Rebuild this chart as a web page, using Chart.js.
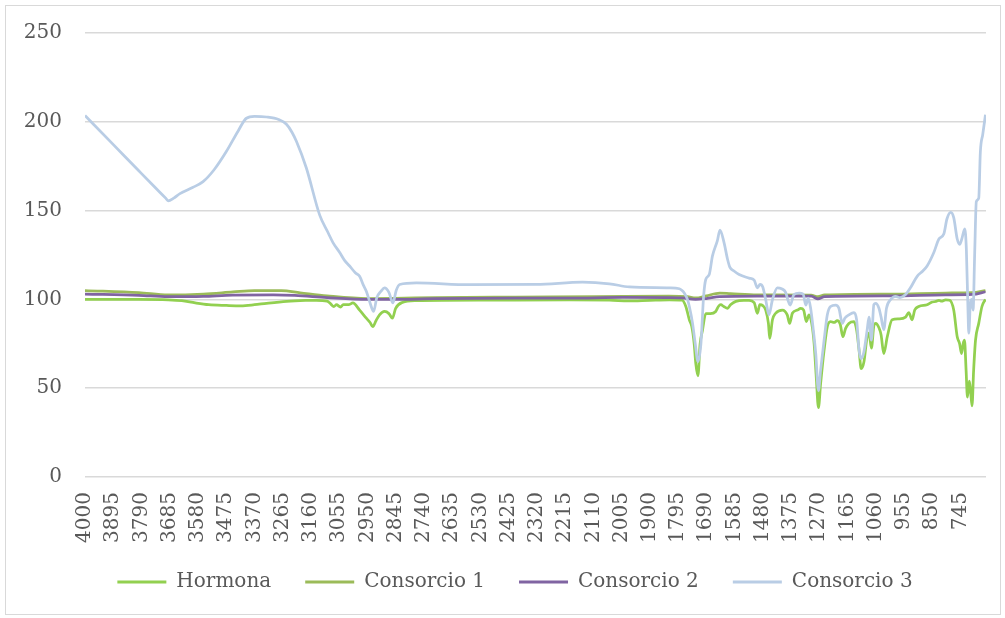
<!DOCTYPE html>
<html>
<head>
<meta charset="utf-8">
<script src="https://cdn.jsdelivr.net/npm/chart.js@4.4.0/dist/chart.umd.min.js"></script>
<style>
  html, body { margin: 0; padding: 0; background: #fff; }
  #frame { position: absolute; left: 5px; top: 5px; width: 996px; height: 610px; border: 1px solid #d9d9d9; box-sizing: border-box; }
  #chart { position: absolute; left: 0; top: 0; }
</style>
</head>
<body>
<div id="frame"></div>
<canvas id="chart" width="1005" height="618"></canvas>
<script>
// Tick labels of the wavenumber axis (cm-1)
const tickLabels = [4000, 3895, 3790, 3685, 3580, 3475, 3370, 3265, 3160, 3055, 2950, 2845, 2740, 2635, 2530, 2425,
  2320, 2215, 2110, 2005, 1900, 1795, 1690, 1585, 1480, 1375, 1270, 1165, 1060, 955, 850, 745];

const seriesNames = ["Hormona", "Consorcio 1", "Consorcio 2", "Consorcio 3"];

// Hormona
const hormonaX = [4000, 3800, 3691, 3640, 3590, 3540, 3474, 3420, 3370, 3325, 3250, 3180, 3140, 3100, 3090, 3075, 3065, 3050, 3040, 3020,
  3004, 2979, 2954, 2940, 2930, 2918, 2905, 2886, 2870, 2857, 2845, 2820, 2770, 2500, 2200, 2050, 1980, 1900, 1828, 1780,
  1766, 1753, 1744, 1735, 1729, 1721, 1713, 1704, 1692, 1675, 1655, 1645, 1636, 1625, 1611, 1600, 1580, 1550, 1531, 1512,
  1500, 1491, 1480, 1469, 1459, 1454, 1444, 1432, 1407, 1389, 1380, 1370, 1351, 1339, 1328, 1318, 1308, 1298, 1289, 1281,
  1273, 1265, 1252, 1240, 1228, 1215, 1203, 1192, 1182, 1172, 1160, 1141, 1131, 1122, 1114, 1104, 1092, 1085, 1076, 1067,
  1060, 1048, 1040, 1030, 1017, 999, 974, 949, 937, 925, 915, 900, 869, 850, 838, 825, 815, 800, 785, 770,
  757, 748, 741, 735, 730, 724, 719, 712, 707, 702, 696, 689, 677, 665, 652];
const hormonaY = [100, 100, 99.8, 99.3, 98, 97, 96.6, 96.4, 97, 97.8, 98.9, 99.4, 99.5, 99, 98, 96, 97, 95.7, 97, 97,
  98, 94, 89.4, 87, 84.7, 88, 91.3, 93.2, 92, 89.4, 95, 98.3, 99.3, 99.6, 99.7, 99.6, 99.1, 99.5, 99.8, 99.6,
  96, 88.5, 84.7, 75, 63.8, 57, 75, 82.7, 92, 92, 93.2, 96, 97, 96, 95, 97, 98.9, 99.4, 99.4, 98.2,
  92.2, 97, 96.5, 94, 86.5, 78, 88.5, 92.2, 94, 91.3, 86.5, 92.2, 94, 95, 94, 87.5, 91.3, 86.5, 75, 56,
  39, 52.4, 71.4, 84.7, 87.5, 87, 88, 86, 79, 83.7, 86.5, 87.5, 82.7, 71.4, 61, 64.7, 79, 81, 72.5, 85,
  86.5, 84, 80, 69.5, 79, 88.5, 89, 90, 92.6, 88.5, 94, 96, 97, 98.5, 98.8, 99.5, 99, 99.8, 99.5, 94,
  79, 75, 69.5, 75, 77, 60, 45, 54, 48, 40, 60, 77, 86.5, 96, 100];

// Consorcio 1
const consorcio1X = [4000, 3800, 3691, 3560, 3450, 3370, 3270, 3200, 3100, 2950, 2850, 2700, 2400, 2100, 1830, 1760, 1730, 1690, 1640, 1600,
  1500, 1300, 1275, 1250, 1000, 800, 700, 652];
const consorcio1Y = [105, 103.8, 102.5, 103, 104.2, 105, 104.9, 103.7, 102, 100.5, 100.6, 101, 101.3, 101.5, 101.8, 101.5, 100.8, 102, 103.5, 103.2,
  102.5, 102.4, 101.5, 102.5, 103, 103.6, 103.8, 105];

// Consorcio 2
const consorcio2X = [4000, 3800, 3691, 3560, 3450, 3300, 3220, 3100, 2950, 2850, 2700, 2400, 2200, 2000, 1830, 1780, 1730, 1690, 1640, 1500,
  1300, 1275, 1250, 1000, 800, 700, 652];
const consorcio2Y = [103, 102.3, 101.5, 101.7, 102.4, 102.5, 102.2, 101, 100, 100, 100.4, 100.7, 100.7, 101.1, 101, 100.8, 100, 100.5, 101.5, 101.8,
  101.8, 100.3, 101.6, 102, 102.6, 102.8, 104.3];

// Consorcio 3
const consorcio3X = [4000, 3900, 3800, 3740, 3700, 3691, 3670, 3647, 3600, 3561, 3520, 3474, 3430, 3400, 3370, 3325, 3280, 3251, 3230, 3214,
  3177, 3127, 3097, 3078, 3053, 3035, 3016, 2995, 2979, 2965, 2954, 2940, 2927, 2915, 2900, 2886, 2870, 2855, 2843, 2830,
  2768, 2570, 2323, 2150, 2050, 1976, 1828, 1790, 1780, 1772, 1760, 1753, 1741, 1731, 1721, 1710, 1700, 1692, 1679, 1667,
  1649, 1639, 1624, 1611, 1602, 1587, 1568, 1531, 1512, 1500, 1490, 1480, 1469, 1457, 1444, 1426, 1410, 1395, 1385, 1378,
  1364, 1345, 1330, 1320, 1311, 1302, 1292, 1283, 1273, 1265, 1252, 1240, 1228, 1209, 1197, 1184, 1175, 1160, 1141, 1131,
  1122, 1114, 1104, 1092, 1085, 1076, 1067, 1060, 1048, 1040, 1030, 1020, 1005, 986, 970, 949, 931, 906, 885, 869,
  844, 825, 807, 795, 781, 770, 757, 748, 740, 729, 723, 717, 714, 708, 703, 698, 692, 686, 677, 671,
  662, 652];
const consorcio3Y = [203.5, 188, 172.4, 163.1, 157, 155.5, 157, 159.6, 163, 166.3, 173, 183.4, 195, 202, 203, 202.7, 201.3, 198.6, 194, 189,
  174, 147.3, 137.8, 132, 126.4, 122, 118.8, 115, 113, 108, 104.6, 98, 93.2, 101, 104.5, 106.5, 104, 98, 105, 108.4,
  109.3, 108.3, 108.4, 109.7, 108.8, 107, 106.5, 106, 105, 103.6, 100, 96, 86.5, 75, 65, 75, 101.7, 111.2, 114, 124.5,
  133, 139, 132, 122.6, 118, 116, 114, 112, 110.8, 106.5, 108.4, 107, 99.8, 91.3, 99.8, 106.5, 106, 104, 98.9, 96.8,
  102.7, 103.6, 103, 96.8, 100.7, 95, 82.7, 69.5, 48.6, 60, 77, 91.3, 96, 96.8, 95, 86.5, 89.4, 91.3, 92.6, 88.5,
  71.4, 66.6, 70.4, 82.7, 90, 77, 97, 97.7, 95, 90, 83, 95, 99.8, 101.7, 101, 102.7, 106.5, 113, 116, 118.8,
  126.4, 134, 136.8, 145.4, 149, 146, 134, 131, 134, 139.7, 128, 94, 81, 98, 100, 94, 126.4, 155, 157, 183,
  193, 204];

const seriesColors = ["#92d050", "#9bbb59", "#8064a2", "#b9cde5"];

// pair up wavenumbers and values for the linear x scale
const toPoints = (xs, ys) => xs.map((x, i) => ({ x: x, y: ys[i] }));
const seriesData = [
  toPoints(hormonaX, hormonaY),
  toPoints(consorcio1X, consorcio1Y),
  toPoints(consorcio2X, consorcio2Y),
  toPoints(consorcio3X, consorcio3Y),
];

const labelFont = { family: "'DejaVu Serif', serif", size: 20 };
const textColor = "#595959";

// Chart.js clips tick labels to the axis box; widen the boxes after layout so nothing is cut
const labelRoom = {
  id: "labelRoom",
  afterLayout(chart) {
    chart.scales.y.left = 0;
    chart.scales.x.bottom = chart.height;
  },
};

new Chart(document.getElementById("chart"), {
  type: "line",
  data: {
    datasets: seriesNames.map((name, i) => ({
      label: name,
      data: seriesData[i],
      borderColor: seriesColors[i],
      backgroundColor: seriesColors[i],
      borderWidth: 2.75,
      pointRadius: 0,
      cubicInterpolationMode: "monotone",
      order: 4 - i, // later series drawn on top, like Excel
    })),
  },
  options: {
    responsive: false,
    animation: false,
    layout: { padding: { left: 44, right: 19, top: 33, bottom: 16 } },
    scales: {
      x: {
        type: "linear",
        reverse: true,
        min: 650,
        max: 4000,
        grid: { display: false, drawTicks: false, tickLength: 0 },
        border: { display: false },
        afterBuildTicks: (scale) => {
          scale.ticks = tickLabels.map((v) => ({ value: v }));
        },
        afterFit: (scale) => {
          scale.height = 61;
          scale.paddingLeft = 0;
          scale.paddingRight = 0;
        },
        ticks: {
          autoSkip: false,
          minRotation: 90,
          maxRotation: 90,
          padding: 15,
          font: labelFont,
          color: textColor,
          callback: (v) => String(v),
        },
      },
      y: {
        min: 0,
        max: 250,
        grid: { color: "#d9d9d9", lineWidth: 1.5, drawTicks: false, tickLength: 0 },
        border: { display: false },
        afterFit: (scale) => {
          scale.width = 41;
          scale.paddingTop = 0;
          scale.paddingBottom = 0;
        },
        ticks: { stepSize: 50, padding: 23, font: labelFont, color: textColor },
      },
    },
    plugins: {
      tooltip: { enabled: false },
      legend: {
        position: "bottom",
        labels: {
          font: labelFont,
          color: textColor,
          boxWidth: 49,
          boxHeight: 3,
          padding: 34,
          sort: (a, b) => a.datasetIndex - b.datasetIndex,
          generateLabels: (chart) =>
            Chart.defaults.plugins.legend.labels.generateLabels(chart).map((item) => ({
              ...item,
              fillStyle: seriesColors[item.datasetIndex],
              strokeStyle: seriesColors[item.datasetIndex],
              lineWidth: 0,
            })),
        },
      },
    },
  },
  plugins: [labelRoom],
});
</script>
</body>
</html>
